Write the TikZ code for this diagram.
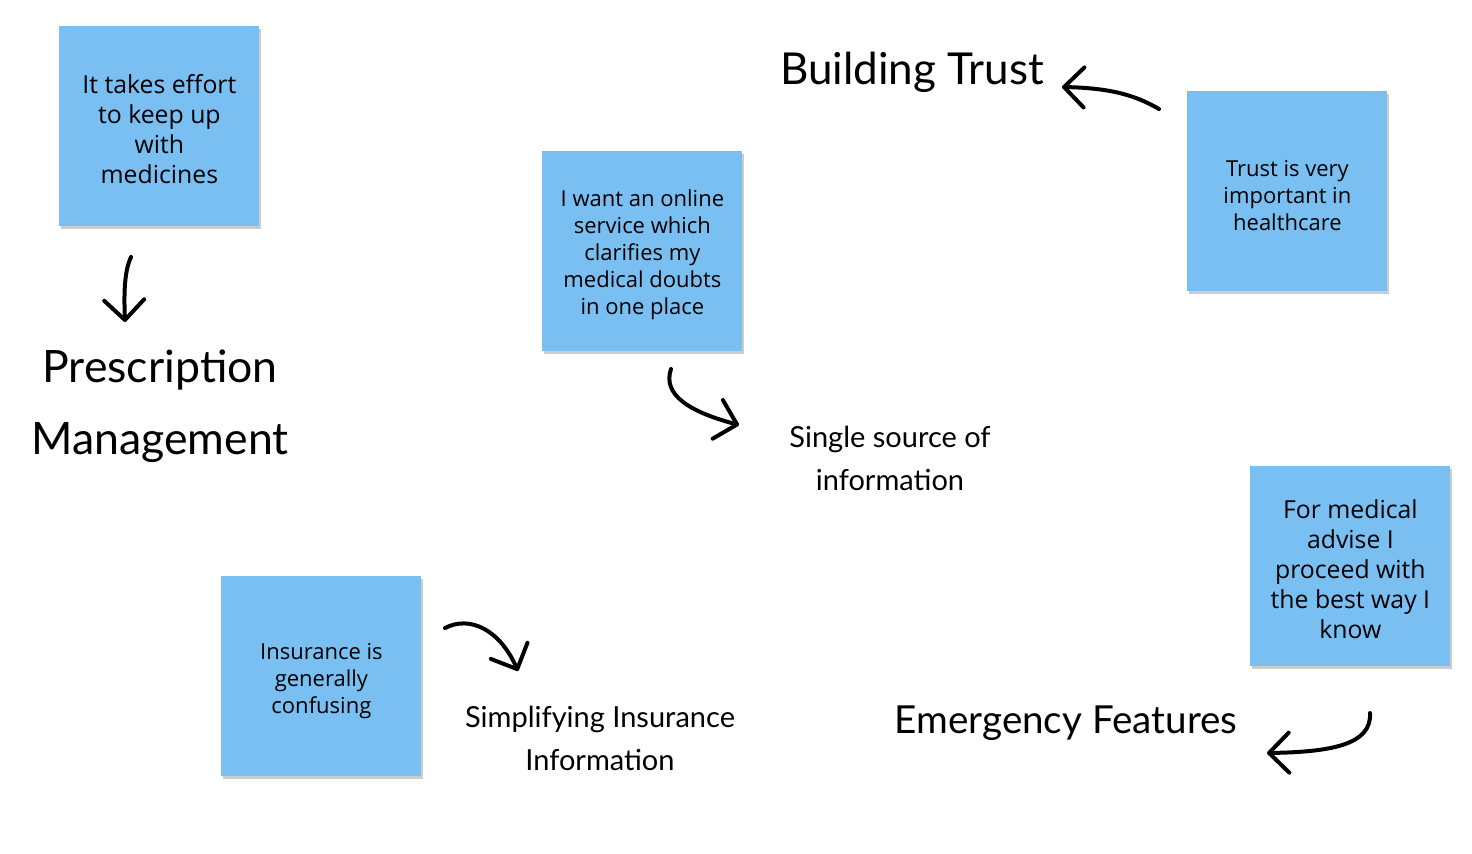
\documentclass[tikz,border=0pt]{standalone}
\usepackage{fontspec}
\setmainfont{Open Sans}
\newfontfamily\handfont{Lato}
\usetikzlibrary{arrows.meta,shadows}
\definecolor{notecol}{HTML}{79BFF2}
\tikzset{
  note/.style={rectangle, fill=notecol, minimum width=100pt, minimum height=100pt,
    anchor=north west, align=center, inner sep=0pt,
    drop shadow={shadow xshift=1pt, shadow yshift=-1.5pt, opacity=0.2, fill=black}},
  bignote/.style={note, font=\fontsize{12.4}{15}\selectfont},
  smallnote/.style={note, font=\fontsize{11}{13.5}\selectfont},
  hand/.style={align=center, inner sep=0pt, font=\handfont},
  sketch/.style={line width=2pt, line cap=round, line join=round,
    -{Straight Barb[length=10pt,width=20pt,line width=2pt,round]}}
}
\begin{document}
\begin{tikzpicture}[x=0.5pt,y=-0.5pt]
\useasboundingbox[fill=white] (0,0) rectangle (1472,853);
% notes
\node[bignote] (n1) at (59,26) {\rule{0pt}{12pt}It takes effort\\to keep up\\with\\medicines};
\node[smallnote] (n2) at (542,151) {\rule{0pt}{12pt}I want an online\\service which\\clarifies my\\medical doubts\\in one place};
\node[smallnote] (n3) at (1187,91) {\rule{0pt}{12pt}Trust is very\\important in\\healthcare};
\node[bignote] (n4) at (1250,466) {\rule{0pt}{12.5pt}For medical\\advise I\\proceed with\\the best way I\\know};
\node[smallnote] (n5) at (221,576) {\rule{0pt}{13pt}Insurance is\\generally\\confusing};
% hand labels
\node[hand, font=\handfont\fontsize{22}{22}\selectfont] (lbt) at (912,72) {Building Trust};
\node[hand, font=\handfont\fontsize{22.3}{36}\selectfont] (lpm) at (160,406) {Prescription\\Management};
\node[hand, font=\handfont\fontsize{14.5}{21.5}\selectfont] (lss) at (890,458) {Single source of\\information};
\node[hand, font=\handfont\fontsize{14.5}{21.5}\selectfont] (lsi) at (600,738) {Simplifying Insurance\\Information};
\node[hand, font=\handfont\fontsize{19.3}{19.3}\selectfont] (lef) at (1066,723) {Emergency Features};
% arrow endpoints
\coordinate (a1s) at (131,257);
\coordinate (a1e) at (125,322);
\coordinate (a2s) at (671,369);
\coordinate (a2e) at (739,425);
\coordinate (a3s) at (1159,109);
\coordinate (a3e) at (1062,87);
\coordinate (a4s) at (445,628);
\coordinate (a4e) at (518,671);
\coordinate (a5s) at (1370,713);
\coordinate (a5e) at (1267,753);
% arrows
\draw[sketch] (a1s) .. controls (124,272) and (124,295) .. (a1e);
\draw[sketch] (a2s) .. controls (662,395) and (690,412) .. (a2e);
\draw[sketch] (a3s) .. controls (1135,95) and (1110,88) .. (a3e);
\draw[sketch] (a4s) .. controls (470,615) and (500,630) .. (a4e);
\draw[sketch] (a5s) .. controls (1372,745) and (1330,752) .. (a5e);
\end{tikzpicture}
\end{document}
